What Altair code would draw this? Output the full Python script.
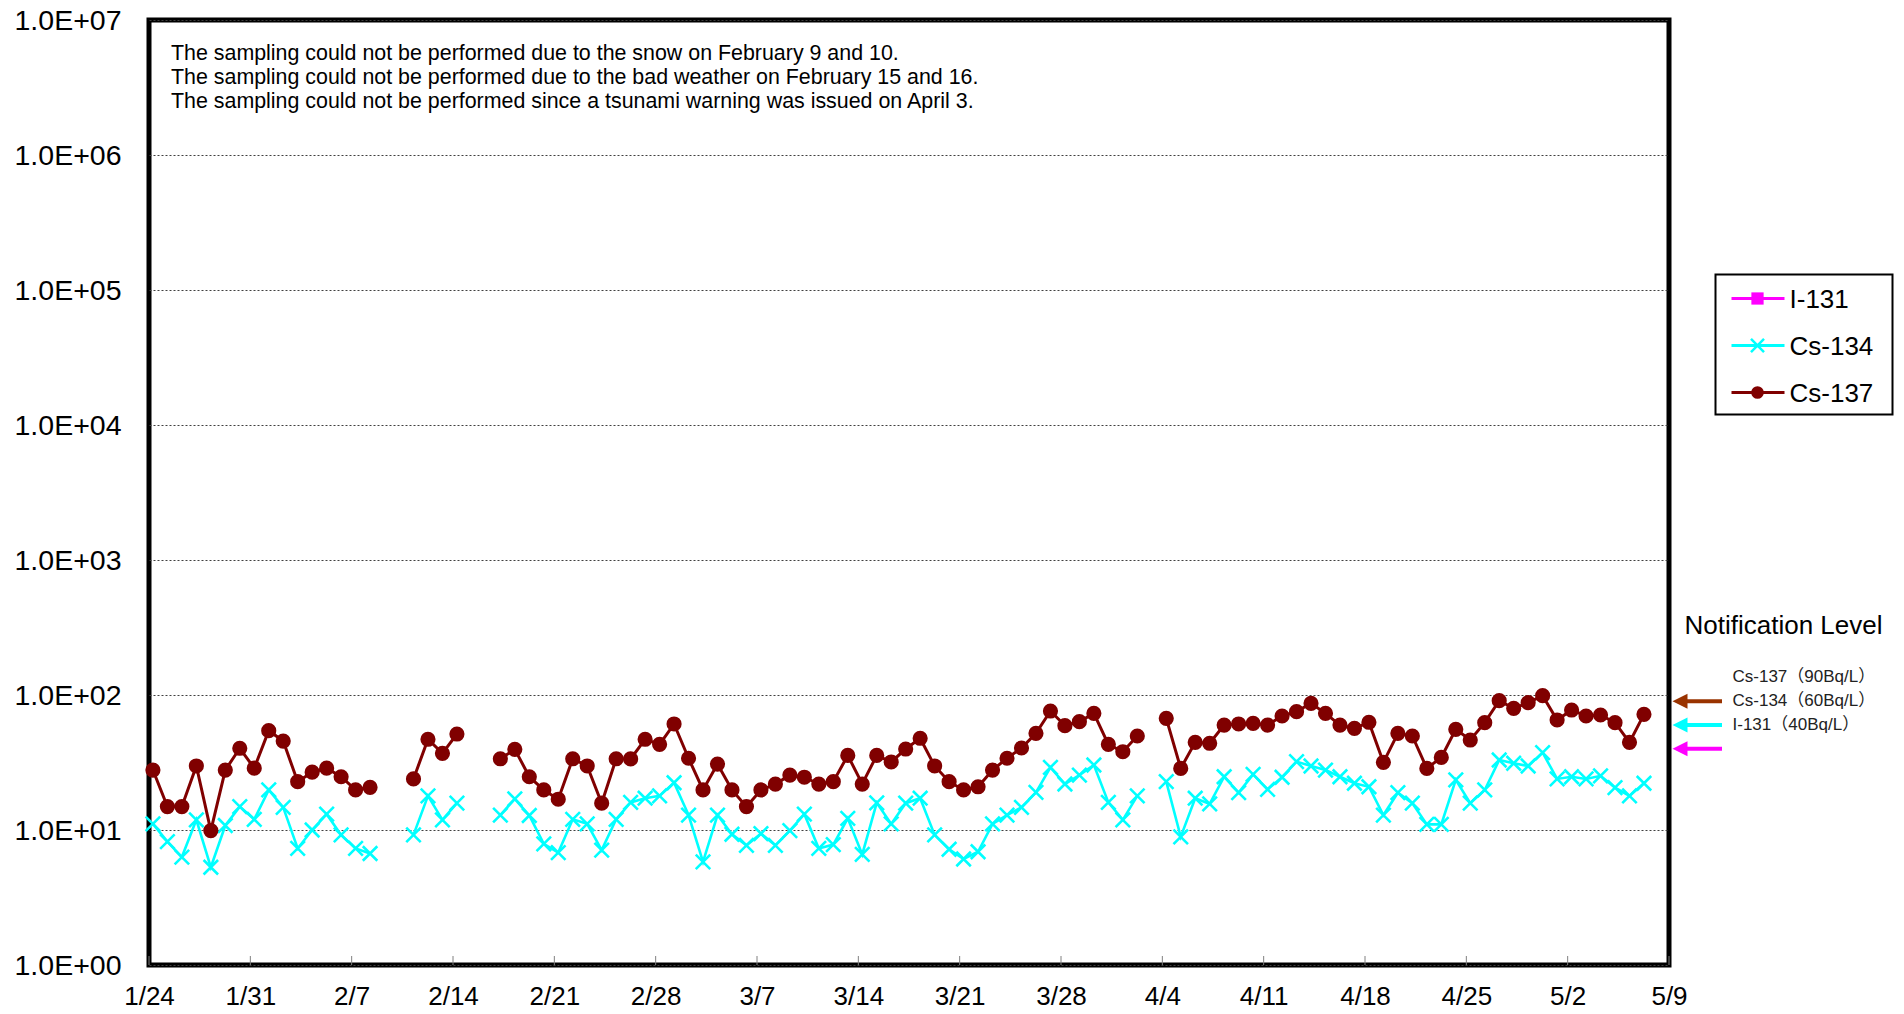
import altair as alt
import pandas as pd

YEAR = 2014

# ---------------- data ----------------
sample_dates = [
    "1/24", "1/25", "1/26", "1/27", "1/28", "1/29", "1/30", "1/31",
    "2/1", "2/2", "2/3", "2/4", "2/5", "2/6", "2/7", "2/8",
    "2/11", "2/12", "2/13", "2/14",
    "2/17", "2/18", "2/19", "2/20", "2/21", "2/22", "2/23", "2/24", "2/25", "2/26", "2/27", "2/28",
    "3/1", "3/2", "3/3", "3/4", "3/5", "3/6", "3/7", "3/8", "3/9", "3/10",
    "3/11", "3/12", "3/13", "3/14", "3/15", "3/16", "3/17", "3/18", "3/19", "3/20",
    "3/21", "3/22", "3/23", "3/24", "3/25", "3/26", "3/27", "3/28", "3/29", "3/30", "3/31",
    "4/1", "4/2",
    "4/4", "4/5", "4/6", "4/7", "4/8", "4/9", "4/10", "4/11", "4/12", "4/13",
    "4/14", "4/15", "4/16", "4/17", "4/18", "4/19", "4/20", "4/21", "4/22", "4/23",
    "4/24", "4/25", "4/26", "4/27", "4/28", "4/29", "4/30",
    "5/1", "5/2", "5/3", "5/4", "5/5", "5/6", "5/7",
]

cs137 = [
    27.8, 14.9, 14.9, 29.8, 9.9, 27.8, 40.3, 28.7,
    54.4, 45.6, 22.8, 26.8, 28.7, 24.8, 19.8, 20.7,
    23.9, 47.0, 37.0, 51.4,
    33.7, 39.6, 24.8, 19.8, 16.9, 33.7, 29.8, 15.8, 33.7, 33.6, 47.0, 43.1,
    61.0, 34.0, 19.8, 30.8, 19.8, 14.9, 19.8, 21.9, 25.5, 24.6,
    21.9, 22.8, 35.7, 21.9, 35.7, 31.9, 39.8, 47.8, 29.8, 22.8,
    19.8, 20.9, 27.8, 34.0, 40.5, 52.0, 76.1, 59.3, 63.5, 73.1, 43.1,
    38.0, 49.7,
    67.2, 28.6, 44.6, 43.9, 59.9, 61.0, 61.7, 59.9, 69.9, 75.3,
    86.8, 73.1, 59.9, 56.6, 62.8, 31.7, 52.0, 49.7, 28.6, 34.5,
    55.7, 46.4, 62.4, 90.8, 79.7, 87.7, 98.9,
    65.3, 77.4, 69.9, 71.1, 62.4, 44.6, 71.9,
]

cs134 = [
    11.1, 8.2, 6.3, 11.9, 5.3, 10.8, 14.9, 12.0,
    19.8, 14.7, 7.3, 10.0, 13.1, 9.2, 7.3, 6.7,
    9.2, 17.9, 11.9, 15.8,
    12.9, 17.0, 12.8, 7.9, 6.8, 12.0, 11.1, 7.1, 12.0, 16.0, 17.2, 17.9,
    22.4, 12.9, 5.8, 12.9, 9.3, 7.7, 9.4, 7.7, 9.9, 13.1,
    7.3, 7.8, 12.2, 6.6, 15.9, 11.1, 15.8, 17.2, 9.2, 7.2,
    6.1, 6.9, 11.1, 12.9, 14.7, 19.0, 29.1, 21.9, 25.5, 30.3, 16.0,
    11.9, 17.9,
    22.8, 8.9, 17.2, 15.6, 24.8, 18.9, 25.8, 20.0, 24.6, 32.1,
    29.8, 27.8, 24.8, 22.2, 20.9, 12.9, 18.9, 15.8, 11.0, 11.0,
    23.5, 15.8, 19.8, 33.0, 31.2, 29.8, 37.4,
    23.9, 24.8, 23.9, 25.2, 20.6, 17.9, 22.2,
]

tick_labels = ["1/24", "1/31", "2/7", "2/14", "2/21", "2/28", "3/7", "3/14",
               "3/21", "3/28", "4/4", "4/11", "4/18", "4/25", "5/2", "5/9"]
y_ticks = [1, 10, 100, 1000, 10000, 100000, 1000000, 10000000]

notes = [
    "The sampling could not be performed due to the snow on February 9 and 10.",
    "The sampling could not be performed due to the bad weather on February 15 and 16.",
    "The sampling could not be performed since a tsunami warning was issued on April 3.",
]

notif_title = "Notification Level"
notif_levels = [90, 60, 40]
notif_labels = ["Cs-137（90Bq/L）", "Cs-134（60Bq/L）", "I-131（40Bq/L）"]
notif_colors = ["#993300", "#00FFFF", "#FF00FF"]

legend_names = ["I-131", "Cs-134", "Cs-137"]
legend_colors = ["#FF00FF", "#00FFFF", "#800000"]

# ---------------- helpers ----------------
FONT = "Liberation Sans, Arial, Noto Sans CJK JP, sans-serif"
W, H = 1520, 945
XSHAPE = "M-1,-1L1,1M-1,1L1,-1"


def md_to_ts(md, hour_offset=0.0):
    m, d = md.split("/")
    ts = pd.Timestamp(year=YEAR, month=int(m), day=int(d)) + pd.Timedelta(hours=hour_offset)
    return ts.strftime("%Y-%m-%dT%H:%M:%SZ")


def dt(md):
    m, d = md.split("/")
    return alt.DateTime(year=YEAR, month=int(m), date=int(d), utc=True)


def build_df(values):
    ts = [pd.Timestamp(year=YEAR, month=int(s.split("/")[0]), day=int(s.split("/")[1]))
          for s in sample_dates]
    seg, segs = 0, []
    for i, t in enumerate(ts):
        if i > 0 and (t - ts[i - 1]).days > 1:
            seg += 1
        segs.append(seg)
    return pd.DataFrame({
        "t": [md_to_ts(s, 6.5) for s in sample_dates],
        "v": values,
        "seg": segs,
    })


df137 = build_df(cs137)
df134 = build_df(cs134)

x_scale = alt.Scale(type="utc", domain=[dt(tick_labels[0]), dt(tick_labels[-1])])
x_axis = alt.Axis(values=[dt(s) for s in tick_labels],
                  labelExpr="utcFormat(datum.value, '%-m/%-d')",
                  title=None, grid=False, ticks=False, tickSize=0, domain=False,
                  labelFontSize=26, labelFont=FONT, labelColor="black",
                  labelPadding=18, labelFlush=False, labelOverlap=False)
y_scale = alt.Scale(type="log", domain=[1, 10000000])
y_axis = alt.Axis(values=y_ticks,
                  labelExpr="'1.0E+0' + round(log(datum.value) / LN10)",
                  title=None, grid=True, gridColor="#404040", gridDash=[2, 2], gridWidth=1,
                  ticks=False, tickSize=0, domain=False,
                  labelFontSize=28.5, labelFont=FONT, labelColor="black",
                  labelPadding=28, labelFlush=False, labelOverlap=False)


def X(field):
    return alt.X(field, type="temporal", scale=x_scale, axis=x_axis)


def Y(field):
    return alt.Y(field, type="quantitative", scale=y_scale, axis=y_axis)


# ---------------- series ----------------
line134 = alt.Chart(df134).mark_line(color="#00FFFF", strokeWidth=2.6).encode(
    x=X("t"), y=Y("v"), detail="seg:N")
pts134 = alt.Chart(df134).mark_point(shape=XSHAPE, size=210, filled=False, color="#00FFFF",
                                     strokeWidth=2.6, opacity=1).encode(x=X("t"), y=Y("v"))
line137 = alt.Chart(df137).mark_line(color="#800000", strokeWidth=3).encode(
    x=X("t"), y=Y("v"), detail="seg:N")
pts137 = alt.Chart(df137).mark_circle(size=230, color="#800000", opacity=1).encode(
    x=X("t"), y=Y("v"))

# inner x ticks
tick_df = pd.DataFrame({"t": [md_to_ts(s) for s in tick_labels]})
ticks = alt.Chart(tick_df).mark_rule(color="#808080", strokeWidth=1).encode(
    x=X("t"), y=alt.value(H - 9), y2=alt.value(H))

# notes
notes_df = pd.DataFrame({"txt": ["\n".join(notes)]})
notes_layer = alt.Chart(notes_df).mark_text(
    align="left", baseline="alphabetic", fontSize=21.4, font=FONT, color="black",
    lineBreak="\n", lineHeight=24).encode(
    x=alt.value(22), y=alt.value(39.5), text="txt:N")

# notification levels
notif_df = pd.DataFrame({"level": notif_levels, "label": notif_labels, "col": notif_colors})
arrow_shaft = alt.Chart(notif_df).mark_rule(strokeWidth=4).encode(
    y=Y("level"), x=alt.value(W + 14), x2=alt.value(W + 53),
    color=alt.Color("col:N", scale=None))
arrow_head = alt.Chart(notif_df).mark_point(shape="M-1,0L1,-1L1,1Z", size=225, filled=True,
                                            opacity=1, strokeWidth=0).encode(
    y=Y("level"), x=alt.value(W + 11),
    color=alt.Color("col:N", scale=None))
notif_text = alt.Chart(notif_df).mark_text(
    align="left", baseline="middle", fontSize=17, font=FONT, color="#222222", dy=-24).encode(
    y=Y("level"), x=alt.value(W + 63.5), text="label:N")
notif_title_layer = alt.Chart(pd.DataFrame({"txt": [notif_title]})).mark_text(
    align="left", baseline="middle", fontSize=26, font=FONT, color="black").encode(
    x=alt.value(W + 15.5), y=alt.value(605.5), text="txt:N")

# legend (drawn)
legend_layers = []
box = alt.Chart(pd.DataFrame({"a": [0]})).mark_rect(
    fill="white", stroke="black", strokeWidth=2).encode(
    x=alt.value(W + 46.5), x2=alt.value(W + 223.5), y=alt.value(254.5), y2=alt.value(394.5))
legend_layers.append(box)
legend_shapes = ["square", XSHAPE, "circle"]
legend_sizes = [150, 170, 160]
for i, (name, col) in enumerate(zip(legend_names, legend_colors)):
    yy = 278.5 + i * 47
    one = pd.DataFrame({"name": [name]})
    legend_layers.append(alt.Chart(one).mark_rule(color=col, strokeWidth=3).encode(
        x=alt.value(W + 62.5), x2=alt.value(W + 115.5), y=alt.value(yy)))
    if legend_shapes[i] == XSHAPE:
        pm = alt.Chart(one).mark_point(shape=XSHAPE, size=legend_sizes[i], filled=False,
                                       color=col, strokeWidth=2.5, opacity=1)
    else:
        pm = alt.Chart(one).mark_point(shape=legend_shapes[i], size=legend_sizes[i],
                                       filled=True, color=col, opacity=1)
    legend_layers.append(pm.encode(x=alt.value(W + 88.5), y=alt.value(yy)))
    legend_layers.append(alt.Chart(one).mark_text(
        align="left", baseline="middle", fontSize=26, font=FONT, color="black").encode(
        x=alt.value(W + 120.5), y=alt.value(yy + 1), text="name:N"))

chart = alt.layer(
    ticks, line134, pts134, line137, pts137, notes_layer,
    arrow_shaft, arrow_head, notif_text, notif_title_layer, *legend_layers
).properties(
    width=W, height=H,
    autosize=alt.AutoSizeParams(type="none"),
    padding={"left": 141, "top": 12, "right": 227, "bottom": 46},
).configure(
    background="white"
).configure_view(
    stroke="black", strokeWidth=5, fill="white"
)

chart.save("out.html", embed_options={"renderer": "svg", "actions": False})
